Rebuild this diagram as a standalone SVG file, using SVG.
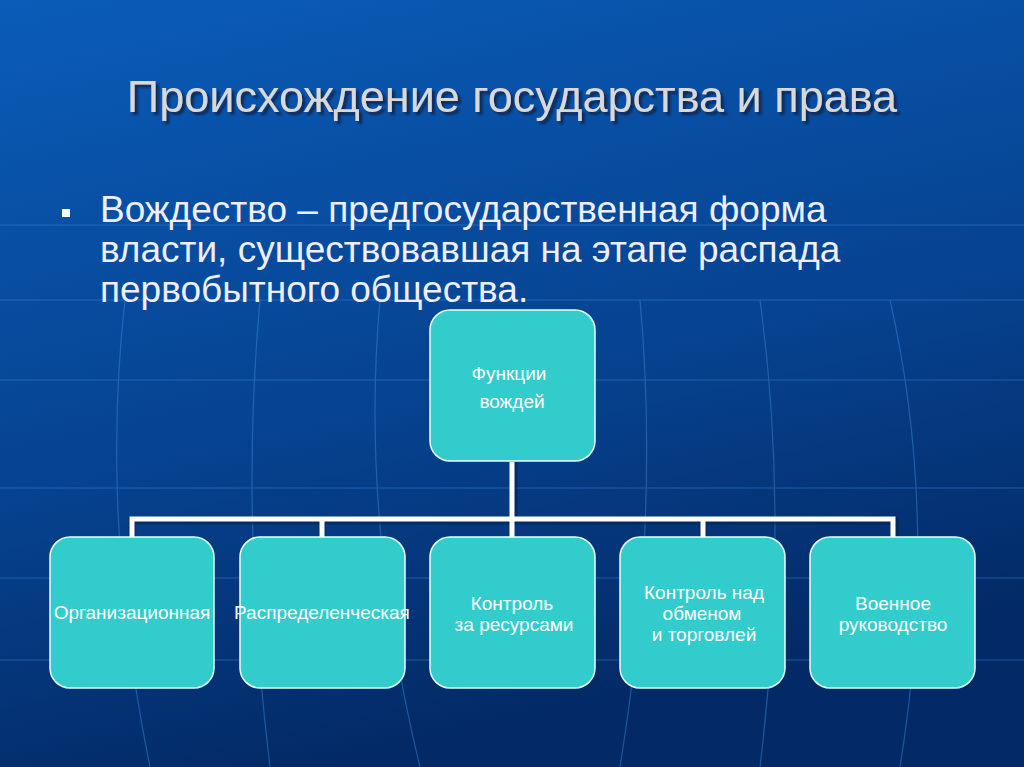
<svg xmlns="http://www.w3.org/2000/svg" width="1024" height="767" viewBox="0 0 1024 767">
<defs>
<linearGradient id="bg" x1="0" y1="0" x2="0.3" y2="1">
<stop offset="0" stop-color="#0a5cb8"/>
<stop offset="0.6" stop-color="#06428f"/>
<stop offset="1" stop-color="#032a66"/>
</linearGradient>
<filter id="ds" x="-5%" y="-30%" width="110%" height="160%">
<feDropShadow dx="3" dy="3" stdDeviation="0.8" flood-color="#0a1f3a" flood-opacity="0.75"/>
</filter>
<style>
.box{fill:#33cccc;stroke:#e8ffff;stroke-width:1.5}
.lbl{font-family:"Liberation Sans",Arial,sans-serif;font-size:19px;fill:#fff;text-anchor:middle}
.grid{stroke:#3f8ce0;stroke-width:1.2;fill:none;opacity:0.45}
.conn{stroke:#fff;stroke-width:5;fill:none}
.sh{stroke:#02234f;stroke-width:7;fill:none;opacity:0.6}
</style>
</defs>
<rect width="1024" height="767" fill="url(#bg)"/>
<g class="grid">
<path d="M0 380H1024M0 488H1024M0 578H1024M0 660H1024M0 300H1024M0 225H1024"/>
<path d="M125 300Q100 520 150 767M260 300Q240 520 270 767M380 300Q360 520 420 767M640 300Q660 520 620 767M760 300Q790 520 760 767M890 300Q940 520 900 767"/>
</g>
<text x="512" y="112" font-family="'Liberation Sans',Arial,sans-serif" font-size="45" fill="#d8d8d8" text-anchor="middle" filter="url(#ds)">Происхождение государства и права</text>
<rect x="62" y="209" width="8" height="8" fill="#fff"/>
<g font-family="'Liberation Sans',Arial,sans-serif" font-size="37" fill="#eef">
<text x="100" y="222">Вождество – предгосударственная форма</text>
<text x="100" y="262">власти, существовавшая на этапе распада</text>
<text x="100" y="302">первобытного общества.</text>
</g>
<g id="connectors">
<path class="sh" d="M514 462V521M132 537V521H895V537M322 521V537M703 521V537"/>
<path class="conn" d="M512 462V519M132 537V519H893V537M322 519V537M512 519V537M703 519V537"/>
</g>
<g id="n0"><rect class="box" x="430" y="310" width="165" height="151" rx="20"/>
<text class="lbl" x="509" y="380">Функции</text><text class="lbl" x="512" y="408">вождей</text></g>
<g id="n1"><rect class="box" x="50" y="537" width="164" height="151" rx="20"/>
<text class="lbl" x="132" y="619">Организационная</text></g>
<g id="n2"><rect class="box" x="240" y="537" width="165" height="151" rx="20"/>
<text class="lbl" x="322" y="619">Распределенческая</text></g>
<g id="n3"><rect class="box" x="430" y="537" width="165" height="151" rx="20"/>
<text class="lbl" x="512" y="610">Контроль</text><text class="lbl" x="514" y="631">за ресурсами</text></g>
<g id="n4"><rect class="box" x="620" y="537" width="165" height="151" rx="20"/>
<text class="lbl" x="704" y="599">Контроль над</text><text class="lbl" x="702" y="620">обменом</text><text class="lbl" x="704" y="641">и торговлей</text></g>
<g id="n5"><rect class="box" x="810" y="537" width="165" height="151" rx="20"/>
<text class="lbl" x="893" y="610">Военное</text><text class="lbl" x="893" y="631">руководство</text></g>
</svg>
